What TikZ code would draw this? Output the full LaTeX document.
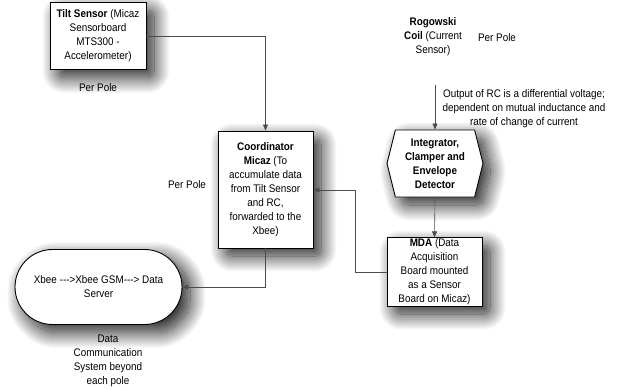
\documentclass[tikz,border=0pt]{standalone}
\usepackage{fontspec}
\setmainfont{Liberation Sans}[FakeStretch=0.9]
\usepackage{tikz}
\usetikzlibrary{arrows.meta,shapes.symbols,shapes.misc,shadows.blur}

\begin{document}
\begin{tikzpicture}[x=1pt, y=-1pt,
    font=\fontsize{11}{14}\selectfont,
    >={Triangle[length=6pt,width=5pt]},
    box/.style={draw=black, line width=0.9pt, fill=white, align=center,
        inner sep=1pt,
        blur shadow={shadow xshift=8pt, shadow yshift=-8pt,
            shadow blur radius=16pt, shadow blur steps=30,
            shadow blur extra rounding=6pt, shadow opacity=90}},
    note/.style={align=center, inner sep=0pt},
    link/.style={->, draw=black!70, line width=0.6pt}
]
\useasboundingbox (0,0) rectangle (630,391);

% Sensors
\node[box, minimum width=96, minimum height=67] (tilt) at (98,36)
    {\textbf{Tilt Sensor} (Micaz\\Sensorboard\\MTS300 -\\Accelerometer)};
\node[note] (tiltpole) at (98,88) {Per Pole};

\node[note] (rc) at (433,37) {\textbf{Rogowski}\\\textbf{Coil} (Current\\Sensor)};
\node[note] (rcpole) at (497,38) {Per Pole};
\coordinate (rcout) at (435,85);
\node[note] (rcnote) at (524,109)
    {Output of RC is a differential voltage;\\dependent on mutual inductance and\\rate of change of current};

% Processing
\node[box, signal, signal to=west and east, signal pointer angle=152,
    minimum width=96, minimum height=67] (integ) at (435,163.5)
    {\textbf{Integrator,}\\\textbf{Clamper and}\\\textbf{Envelope}\\\textbf{Detector}};

\node[box, minimum width=95, minimum height=68] (mda) at (434.5,272)
    {\textbf{MDA} (Data\\Acquisition\\Board mounted\\as a Sensor\\Board on Micaz)};

\node[box, minimum width=95, minimum height=117] (coord) at (265.5,189.5)
    {\textbf{Coordinator}\\\textbf{Micaz} (To\\accumulate data\\from Tilt Sensor\\and RC,\\forwarded to the\\Xbee)};
\node[note] (coordpole) at (187,185) {Per Pole};

% Communication
\node[box, rounded rectangle, minimum width=169, minimum height=75] (xbee) at (98.5,287)
    {Xbee -{}-{}-{}>Xbee GSM-{}-{}-{}> Data\\Server};
\node[note] (xbeenote) at (108,361)
    {Data\\Communication\\System beyond\\each pole};

% Connectors
\draw[link] (tilt.east) -| (coord.north);
\draw[link] (rcout) -- (integ.north);
\draw[link] (integ.south) -- (mda.north);
\coordinate (bend) at (355,190);
\draw[link] (mda.west) -| (bend) -- (coord.east |- bend);
\draw[link] (coord.south) |- (xbee.east);

\end{tikzpicture}
\end{document}
